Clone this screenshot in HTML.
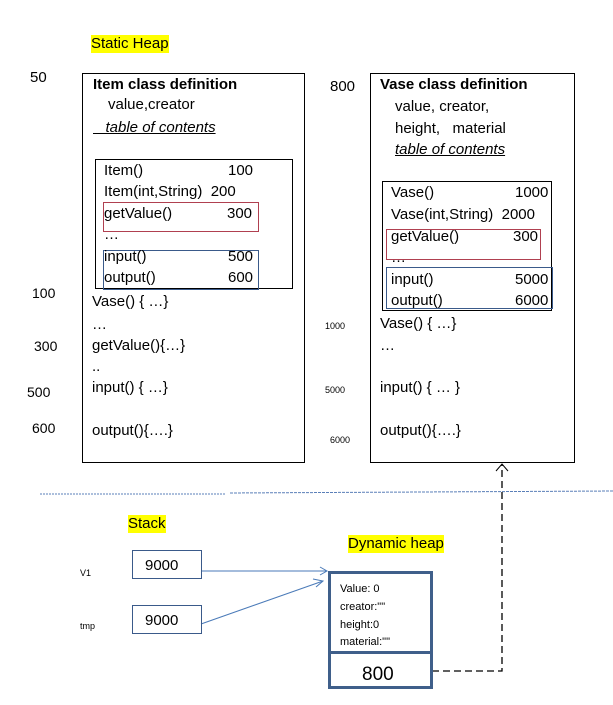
<!DOCTYPE html><html><head><style>
body{margin:0;width:613px;height:705px;background:#fff;position:relative;font-family:"Liberation Sans",sans-serif;overflow:hidden}
.t{position:absolute;font-size:15px;white-space:nowrap;color:#000;line-height:18px}
.b{position:absolute;box-sizing:border-box}
.hl{background:#ff0}
</style></head><body>
<div class="t hl" style="left:91px;top:35px">Static Heap</div>
<div class="t" style="left:30px;top:69px">50</div>
<div class="t" style="left:330px;top:78px">800</div>
<div class="b" style="left:82px;top:73px;width:223px;height:390px;border:1px solid #000"></div>
<div class="b" style="left:370px;top:73px;width:205px;height:390px;border:1px solid #000"></div>
<div class="t" style="left:93px;top:76px;font-weight:bold">Item class definition</div>
<div class="t" style="left:108px;top:96px">value,creator</div>
<div class="t" style="left:93px;top:119px;font-style:italic"><span style="text-decoration:underline">&nbsp;&nbsp;&nbsp;table of contents</span></div>
<div class="b" style="left:95px;top:159px;width:198px;height:130px;border:1px solid #000"></div>
<div class="b" style="left:103px;top:202px;width:156px;height:30px;border:1px solid #b04050"></div>
<div class="b" style="left:103px;top:250px;width:156px;height:40px;border:1px solid #3a5a8a"></div>
<div class="t" style="left:104px;top:162px">Item()</div><div class="t" style="left:228px;top:162px">100</div>
<div class="t" style="left:104px;top:183px">Item(int,String)&nbsp; 200</div>
<div class="t" style="left:104px;top:205px">getValue()</div><div class="t" style="left:227px;top:205px">300</div>
<div class="t" style="left:104px;top:226px">…</div>
<div class="t" style="left:104px;top:248px">input()</div><div class="t" style="left:228px;top:248px">500</div>
<div class="t" style="left:104px;top:269px">output()</div><div class="t" style="left:228px;top:269px">600</div>
<div class="t" style="left:32px;top:284px;font-size:14px">100</div>
<div class="t" style="left:92px;top:293px">Vase() { …}</div>
<div class="t" style="left:92px;top:316px">…</div>
<div class="t" style="left:34px;top:337px;font-size:14px">300</div>
<div class="t" style="left:92px;top:337px">getValue(){…}</div>
<div class="t" style="left:92px;top:358px">..</div>
<div class="t" style="left:27px;top:383px;font-size:14px">500</div>
<div class="t" style="left:92px;top:379px">input() { …}</div>
<div class="t" style="left:32px;top:419px;font-size:14px">600</div>
<div class="t" style="left:92px;top:422px">output(){….}</div>

<div class="t" style="left:380px;top:76px;font-weight:bold">Vase class definition</div>
<div class="t" style="left:395px;top:98px">value, creator,</div>
<div class="t" style="left:395px;top:120px">height,&nbsp;&nbsp; material</div>
<div class="t" style="left:395px;top:141px;font-style:italic;text-decoration:underline">table of contents</div>
<div class="b" style="left:382px;top:181px;width:170px;height:130px;border:1px solid #000"></div>
<div class="b" style="left:386px;top:229px;width:155px;height:31px;border:1px solid #b04050"></div>
<div class="b" style="left:386px;top:267px;width:167px;height:42px;border:1px solid #3a5a8a"></div>
<div class="t" style="left:391px;top:184px">Vase()</div><div class="t" style="left:515px;top:184px">1000</div>
<div class="t" style="left:391px;top:206px">Vase(int,String)&nbsp; 2000</div>
<div class="t" style="left:391px;top:228px">getValue()</div><div class="t" style="left:513px;top:228px">300</div>
<div class="t" style="left:391px;top:249px">…</div>
<div class="t" style="left:391px;top:271px">input()</div><div class="t" style="left:515px;top:271px">5000</div>
<div class="t" style="left:391px;top:292px">output()</div><div class="t" style="left:515px;top:292px">6000</div>
<div class="t" style="left:325px;top:317px;font-size:9px">1000</div>
<div class="t" style="left:380px;top:315px">Vase() { …}</div>
<div class="t" style="left:380px;top:337px">…</div>
<div class="t" style="left:325px;top:381px;font-size:9px">5000</div>
<div class="t" style="left:380px;top:379px">input() { … }</div>
<div class="t" style="left:330px;top:431px;font-size:9px">6000</div>
<div class="t" style="left:380px;top:422px">output(){….}</div>

<svg width="613" height="705" style="position:absolute;left:0;top:0">
<line x1="40" y1="494" x2="225" y2="494" stroke="#5a7fb8" stroke-dasharray="2,1"/>
<line x1="230" y1="493" x2="613" y2="491" stroke="#5a7fb8" stroke-dasharray="3,1"/>
<line x1="201" y1="571" x2="326" y2="571" stroke="#4a7ab8"/>
<path d="M320,567 L327,571 L320,575" fill="none" stroke="#4a7ab8"/>
<line x1="201" y1="624" x2="323" y2="581" stroke="#4a7ab8"/>
<path d="M313,579 L323,581 L316,587" fill="none" stroke="#4a7ab8"/>
<path d="M432,671 L502,671 L502,465" fill="none" stroke="#000" stroke-width="1.3" stroke-dasharray="7,4"/>
<path d="M496,471 L502,464 L508,471" fill="none" stroke="#000"/>
</svg>
<div class="t hl" style="left:128px;top:515px">Stack</div>
<div class="t hl" style="left:348px;top:535px">Dynamic heap</div>
<div class="t" style="left:80px;top:564px;font-size:9px">V1</div>
<div class="t" style="left:80px;top:617px;font-size:9px">tmp</div>
<div class="b" style="left:132px;top:550px;width:70px;height:29px;border:1px solid #3a5a8a"></div>
<div class="t" style="left:145px;top:557px">9000</div>
<div class="b" style="left:132px;top:605px;width:70px;height:29px;border:1px solid #3a5a8a"></div>
<div class="t" style="left:145px;top:612px">9000</div>
<div class="b" style="left:328px;top:571px;width:105px;height:118px;border:3px solid #3f5f8a"></div>
<div class="b" style="left:328px;top:651px;width:105px;height:3px;background:#3f5f8a"></div>
<div class="t" style="left:340px;top:580px;font-size:11px">Value: 0</div>
<div class="t" style="left:340px;top:598px;font-size:11px">creator:""</div>
<div class="t" style="left:340px;top:616px;font-size:11px">height:0</div>
<div class="t" style="left:340px;top:633px;font-size:11px">material:""</div>
<div class="t" style="left:362px;top:664px;font-size:19px;line-height:22px">800</div>
</body></html>
